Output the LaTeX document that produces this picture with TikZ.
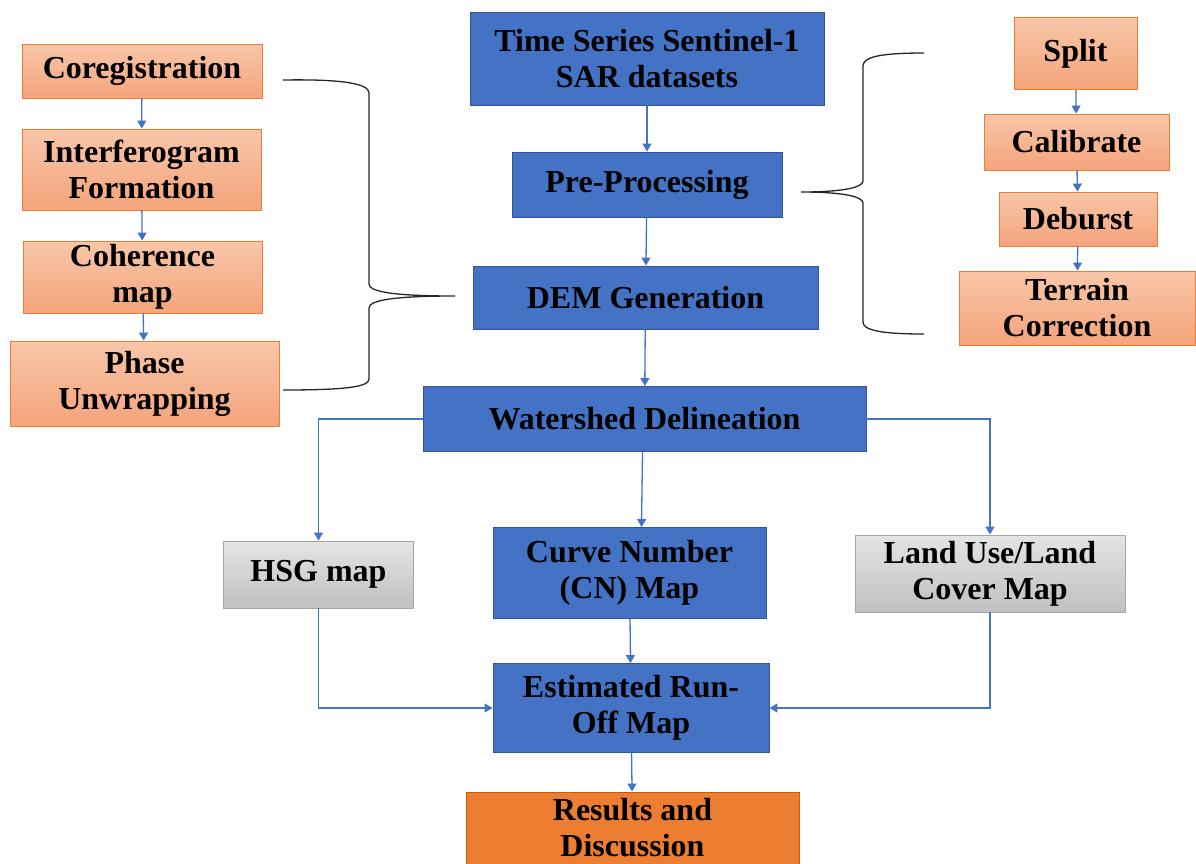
\documentclass[tikz,border=0pt]{standalone}
\usepackage{fontspec}
\setmainfont{Liberation Serif}
\usepackage{xcolor}
\usetikzlibrary{arrows.meta,positioning,calc}

\definecolor{boxblue}{HTML}{4472C4}
\definecolor{boxblueline}{HTML}{2F5597}
\definecolor{peachtop}{HTML}{F8C6A9}
\definecolor{peachbot}{HTML}{F4A47B}
\definecolor{peachline}{HTML}{ED7D31}
\definecolor{greytop}{HTML}{E4E4E4}
\definecolor{greybot}{HTML}{C0C0C0}
\definecolor{greyline}{HTML}{A6A6A6}
\definecolor{resorange}{HTML}{ED7D31}
\definecolor{resline}{HTML}{C55A11}

\begin{document}
\begin{tikzpicture}[
    x=1pt, y=-1pt,
    box/.style={draw, line width=0.9pt, inner sep=0pt, align=center,
        font=\bfseries\fontsize{32}{36}\selectfont},
    bluebox/.style={box, fill=boxblue, draw=boxblueline},
    peachbox/.style={box, top color=peachtop, bottom color=peachbot, draw=peachline},
    greybox/.style={box, top color=greytop, bottom color=greybot, draw=greyline},
    resbox/.style={box, fill=resorange, draw=resline},
    arrow/.style={-{Triangle[length=8pt,width=9pt]}, draw=boxblue, line width=1.3pt},
    brace/.style={draw=black!85, line width=1.3pt}
]
    \fill[white] (0,0) rectangle (1196,863);
    \useasboundingbox (0,0) rectangle (1196,863);

    % left column
    \node[peachbox, minimum width=240pt, minimum height=54pt] (coreg) at (142,71) {Coregistration};
    \node[peachbox, minimum width=239pt, minimum height=81pt] (interf) at (141.5,169.5) {Interferogram\\Formation};
    \node[peachbox, minimum width=239pt, minimum height=72pt] (coher) at (142.5,277) {Coherence\\map};
    \node[peachbox, minimum width=269pt, minimum height=85pt] (phase_unw) at (144.5,383.5) {Phase\\Unwrapping};

    % main column
    \node[bluebox, minimum width=354pt, minimum height=93pt] (ts_sar) at (647,58.5) {Time Series Sentinel-1\\SAR datasets};
    \node[bluebox, minimum width=270pt, minimum height=65pt] (pre_proc) at (647,184.5) {Pre-Processing};
    \node[bluebox, minimum width=345pt, minimum height=63pt] (dem_gen) at (645.5,297.5) {DEM Generation};
    \node[bluebox, minimum width=443pt, minimum height=65pt] (watershed) at (644.5,419) {Watershed Delineation};

    % right column
    \node[peachbox, minimum width=123pt, minimum height=72pt] (split) at (1075.5,53.5) {Split};
    \node[peachbox, minimum width=185pt, minimum height=56pt] (calib) at (1076.5,142) {Calibrate};
    \node[peachbox, minimum width=158pt, minimum height=54pt] (deburst) at (1078,219) {Deburst};
    \node[peachbox, minimum width=236pt, minimum height=74pt] (terrain) at (1077,308) {Terrain\\Correction};

    % lower part
    \node[greybox, minimum width=190pt, minimum height=67pt] (hsg) at (318.5,574.5) {HSG map};
    \node[bluebox, minimum width=273pt, minimum height=91pt] (cn_map) at (629.5,573) {Curve Number\\(CN) Map};
    \node[greybox, minimum width=270pt, minimum height=77pt] (lulc) at (990,573.5) {Land Use/Land\\Cover Map};
    \node[bluebox, minimum width=276pt, minimum height=89pt] (runoff) at (631,708) {Estimated Run-\\Off Map};
    \node[resbox, minimum width=333pt, minimum height=72pt] (results) at (632.5,828) {Results and\\Discussion};

    % braces
    \draw[brace] (283,80) .. controls (345,79) and (369,84) .. (369,93) -- (369,284)
        .. controls (369,292) and (395,296) .. (455,296)
        .. controls (395,296) and (369,300) .. (369,308) -- (369,379)
        .. controls (369,387) and (345,390) .. (283,390);
    \draw[brace] (924,53) .. controls (880,53) and (863,57) .. (863,66) -- (863,181)
        .. controls (863,188) and (840,192) .. (801,192)
        .. controls (840,192) and (863,196) .. (863,203) -- (863,322)
        .. controls (863,330) and (880,334) .. (924,334);

    \draw[arrow] (coreg) -- (interf);
    \draw[arrow] (interf) -- (coher);
    \draw[arrow] (coher) -- (phase_unw);
    \draw[arrow] (split) -- (calib);
    \draw[arrow] (calib) -- (deburst);
    \draw[arrow] (deburst) -- (terrain);
    \draw[arrow] (ts_sar) -- (pre_proc);
    \draw[arrow] (pre_proc) -- (dem_gen);
    \draw[arrow] (dem_gen) -- (watershed);
    \draw[arrow] (watershed.west) -| (hsg.north);
    \draw[arrow] (watershed.east) -| (lulc.north);
    \draw[arrow] ([xshift=-2pt]watershed.south) -- ([xshift=12pt]cn_map.north);
    \draw[arrow] (cn_map) -- (runoff);
    \draw[arrow] (hsg.south) |- (runoff.west);
    \draw[arrow] (lulc.south) |- (runoff.east);
    \draw[arrow] (runoff) -- (results);
\end{tikzpicture}
\end{document}
